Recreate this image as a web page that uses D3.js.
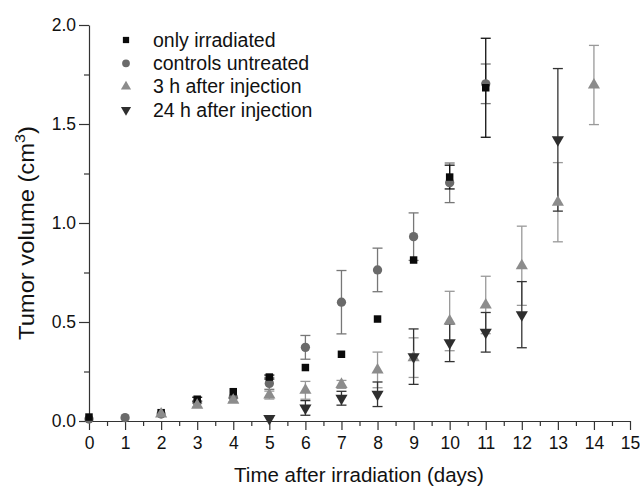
<!DOCTYPE html>
<html>
<head>
<meta charset="utf-8">
<script src="https://cdn.jsdelivr.net/npm/d3@7"></script>
<style>
  body { margin: 0; background: #fff; }
  svg { font-family: "Liberation Sans", Arial, sans-serif; }
  .axis path, .axis line { stroke: #333; stroke-width: 1.2; }
  .axis text { font-size: 17.5px; fill: #111; }
</style>
</head>
<body>
<div id="chart"></div>
<script>
// data
const irrDays = [0, 2, 3, 4, 5, 6, 7, 8, 9, 10, 11];
const irrVals = [0.02, 0.042, 0.11, 0.148, 0.222, 0.27, 0.337, 0.515, 0.813, 1.232, 1.683];
const irrErr  = [0, 0, 0.01, 0, 0.01, 0, 0, 0, 0, 0.06, 0.25];

const ctrlDays = [0, 1, 2, 3, 4, 5, 6, 7, 8, 9, 10, 11];
const ctrlVals = [0.01, 0.017, 0.035, 0.095, 0.12, 0.19, 0.372, 0.60, 0.763, 0.931, 1.203, 1.703];
const ctrlErr  = [0, 0, 0, 0, 0, 0.03, 0.06, 0.16, 0.11, 0.12, 0.10, 0.10];

const h3Days = [2, 3, 4, 5, 6, 7, 8, 9, 10, 11, 12, 13, 14];
const h3Vals = [0.035, 0.08, 0.105, 0.131, 0.155, 0.185, 0.258, 0.32, 0.505, 0.586, 0.784, 1.105, 1.697];
const h3Err  = [0, 0.01, 0.01, 0.02, 0.045, 0.02, 0.09, 0.10, 0.15, 0.145, 0.20, 0.20, 0.20];

const h24Days = [5, 6, 7, 8, 9, 10, 11, 12, 13];
const h24Vals = [0.013, 0.066, 0.115, 0.135, 0.325, 0.395, 0.448, 0.537, 1.42];
const h24Err  = [0, 0.037, 0.035, 0.062, 0.14, 0.095, 0.10, 0.167, 0.36];

const xTicks = d3.range(0, 16, 1);
const yTicks = [0, 0.5, 1.0, 1.5, 2.0];

const width = 640, height = 488;
const marginLeft = 89, marginRight = 10, marginTop = 25, marginBottom = 67;

const svg = d3.select('#chart').append('svg')
  .attr('width', width).attr('height', height);

const x = d3.scaleLinear().domain([0, 15]).range([marginLeft, width - marginRight]);
const y = d3.scaleLinear().domain([0, 2]).range([height - marginBottom, marginTop]);

// minor ticks first
svg.append('g').attr('class', 'axis')
  .attr('transform', 'translate(0,' + y(0) + ')')
  .call(d3.axisBottom(x).tickValues(d3.range(0.5, 15, 1)).tickSize(5).tickFormat(() => ''))
  .call(g => g.select('.domain').remove());
svg.append('g').attr('class', 'axis')
  .attr('transform', 'translate(' + x(0) + ',0)')
  .call(d3.axisLeft(y).tickValues([0.25, 0.75, 1.25, 1.75]).tickSize(5).tickFormat(() => ''))
  .call(g => g.select('.domain').remove());

// major axes
svg.append('g').attr('class', 'axis')
  .attr('transform', 'translate(0,' + y(0) + ')')
  .call(d3.axisBottom(x).tickValues(xTicks).tickSize(9).tickSizeOuter(0).tickPadding(7).tickFormat(d3.format('d')));
svg.append('g').attr('class', 'axis')
  .attr('transform', 'translate(' + x(0) + ',0)')
  .call(d3.axisLeft(y).tickValues(yTicks).tickSize(10).tickSizeOuter(0).tickPadding(3).tickFormat(d3.format('.1f')));

// axis titles
svg.append('text')
  .attr('x', 359).attr('y', 482)
  .attr('text-anchor', 'middle')
  .style('font-size', '20.5px').attr('fill', '#111')
  .text('Time after irradiation (days)');

const yt = svg.append('text')
  .attr('transform', 'translate(34,233) rotate(-90) scale(1.08,1)')
  .attr('text-anchor', 'middle')
  .style('font-size', '22px').attr('fill', '#111');
yt.append('tspan').text('Tumor volume (cm');
yt.append('tspan').attr('dy', -9).style('font-size', '15px').text('3');
yt.append('tspan').attr('dy', 9).text(')');

const series = [
  { name: 'controls untreated', days: ctrlDays, vals: ctrlVals, err: ctrlErr, sym: d3.symbolCircle, size: 68, fill: '#6a6a6a', bar: '#777' },
  { name: 'only irradiated', days: irrDays, vals: irrVals, err: irrErr, sym: d3.symbolSquare, size: 56, fill: '#0a0a0a', bar: '#111' },
  { name: '3 h after injection', days: h3Days, vals: h3Vals, err: h3Err, sym: d3.symbolTriangle, size: 64, fill: '#8c8c8c', bar: '#999' },
  { name: '24 h after injection', days: h24Days, vals: h24Vals, err: h24Err, sym: d3.symbolTriangle, size: 64, fill: '#2e2e2e', bar: '#333', flip: true }
];

series.forEach(s => {
  const pts = s.days.map((d, i) => ({ d: d, v: s.vals[i], e: s.err[i] }));
  const g = svg.append('g');
  const eb = g.selectAll('g.eb').data(pts.filter(p => p.e > 0)).enter().append('g')
    .attr('stroke', s.bar).attr('stroke-width', 1.3);
  eb.append('line')
    .attr('x1', p => x(p.d)).attr('x2', p => x(p.d))
    .attr('y1', p => y(p.v - p.e)).attr('y2', p => y(p.v + p.e));
  eb.append('line')
    .attr('x1', p => x(p.d) - 5).attr('x2', p => x(p.d) + 5)
    .attr('y1', p => y(p.v + p.e)).attr('y2', p => y(p.v + p.e));
  eb.append('line')
    .attr('x1', p => x(p.d) - 5).attr('x2', p => x(p.d) + 5)
    .attr('y1', p => y(p.v - p.e)).attr('y2', p => y(p.v - p.e));
});

series.forEach(s => {
  const pts = s.days.map((d, i) => ({ d: d, v: s.vals[i] }));
  svg.append('g').selectAll('path').data(pts).enter().append('path')
    .attr('d', d3.symbol().type(s.sym).size(s.size))
    .attr('transform', p => 'translate(' + x(p.d) + ',' + y(p.v) + ')' + (s.flip ? ' rotate(180)' : ''))
    .attr('fill', s.fill);
});

// legend
const legendOrder = [series[1], series[0], series[2], series[3]];
const lg = svg.append('g');
legendOrder.forEach((s, i) => {
  const ly = 40 + i * 23.3;
  lg.append('path')
    .attr('d', d3.symbol().type(s.sym).size(s.size * 0.7))
    .attr('transform', 'translate(126,' + ly + ')' + (s.flip ? ' rotate(180)' : ''))
    .attr('fill', s.fill);
  lg.append('text')
    .attr('x', 153).attr('y', ly)
    .attr('dy', '0.35em')
    .style('font-size', '19.5px').attr('fill', '#111')
    .text(s.name);
});
</script>
</body>
</html>
